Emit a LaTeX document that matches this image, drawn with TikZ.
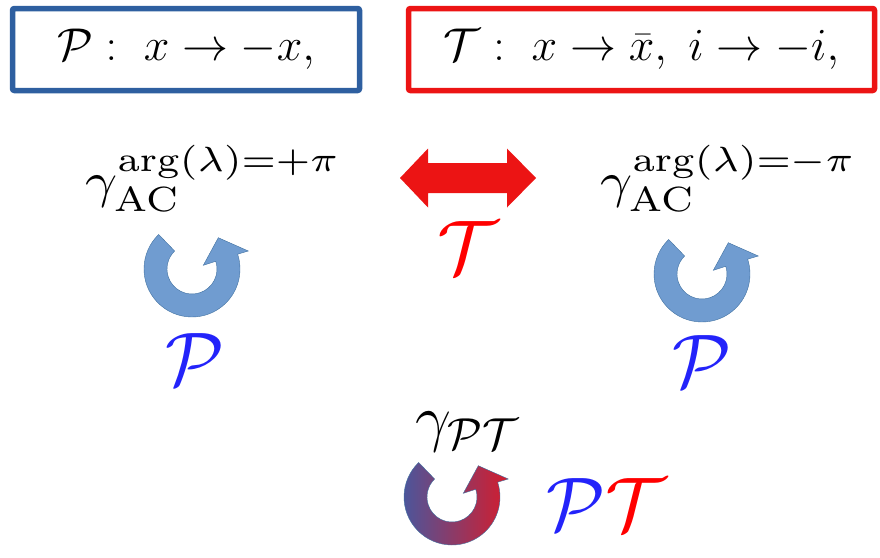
\RequirePackage{fix-cm}
\documentclass[tikz,border=0pt]{standalone}
\usepackage{amsmath}
\usetikzlibrary{positioning,calc}

\definecolor{pblue}{RGB}{46,95,160}
\definecolor{tred}{RGB}{236,20,20}
\definecolor{arrfill}{RGB}{112,156,208}
\definecolor{arredge}{RGB}{65,113,160}
\definecolor{letblue}{RGB}{35,35,250}
\definecolor{gblue}{RGB}{70,88,160}
\definecolor{gred}{RGB}{212,28,45}

\newcommand{\contourlabel}[1]{\scalebox{5.6}[5.0]{$#1$}}

\tikzset{
  rulebox/.style={draw, line width=5.5pt, rounded corners=2pt, inner sep=0pt, minimum height=82pt, font=\fontsize{46}{50}\selectfont},
  bigsym/.style={font=\fontsize{76}{80}\selectfont, inner sep=0pt},
  glabel/.style={inner sep=0pt, anchor=base west},
  circarrow/.pic={
    \path[pic actions] (134:48pt) arc[start angle=134, end angle=378, radius=48pt]
      -- (56.3pt,18pt) -- (26.3pt,31.3pt) -- (11.3pt,3.7pt) -- (18:25pt)
      arc[start angle=18, end angle=-226, radius=25pt] -- cycle;
  }
}

\begin{document}
\begin{tikzpicture}[x=1pt, y=-1pt]
\useasboundingbox (0,0) rectangle (880,557);
% the two rules
\node[rulebox, draw=pblue, minimum width=347pt] (pbox) at (186,49.5) {$\mathcal{P}:\ x\rightarrow -x,$\hspace{18pt}};
\node[rulebox, draw=tred, minimum width=466pt] (tbox) at (641.5,49.5) {$\mathcal{T}:\ x\rightarrow\bar{x},\ i\rightarrow -i,$};
% the two contours
\node[glabel] (gplus) at (85,197) {\contourlabel{\gamma^{\arg(\lambda)=+\pi}_{\mathrm{AC}}}};
\node[glabel] (gminus) at (600,197) {\contourlabel{\gamma^{\arg(\lambda)=-\pi}_{\mathrm{AC}}}};
\fill[tred] (400,178) -- (428,148.5) -- (428,163) -- (507,163) -- (507,148.5) -- (536,178)
  -- (507,207.5) -- (507,193) -- (428,193) -- (428,207.5) -- cycle;
\node[bigsym, text=red] (tsym) at (468,248) {$\mathcal{T}$};
\pic[fill=arrfill, draw=arredge] at (192,269) {circarrow};
\pic[fill=arrfill, draw=arredge] at (702,274) {circarrow};
\node[bigsym, text=letblue] (pleft) at (195,360) {$\mathcal{P}$};
\node[bigsym, text=letblue] (pright) at (702,362) {$\mathcal{P}$};
% combined symmetry
\node[font=\fontsize{64}{68}\selectfont, inner sep=0pt] (gpt) at (467,432) {$\gamma_{\mathcal{P}\mathcal{T}}$};
\pic[left color=gblue, right color=gred, draw=arredge] at (452,497) {circarrow};
\node[bigsym] (pt) at (606,505) {$\color{letblue}\mathcal{P}\color{red}\mathcal{T}$};
\end{tikzpicture}
\end{document}
